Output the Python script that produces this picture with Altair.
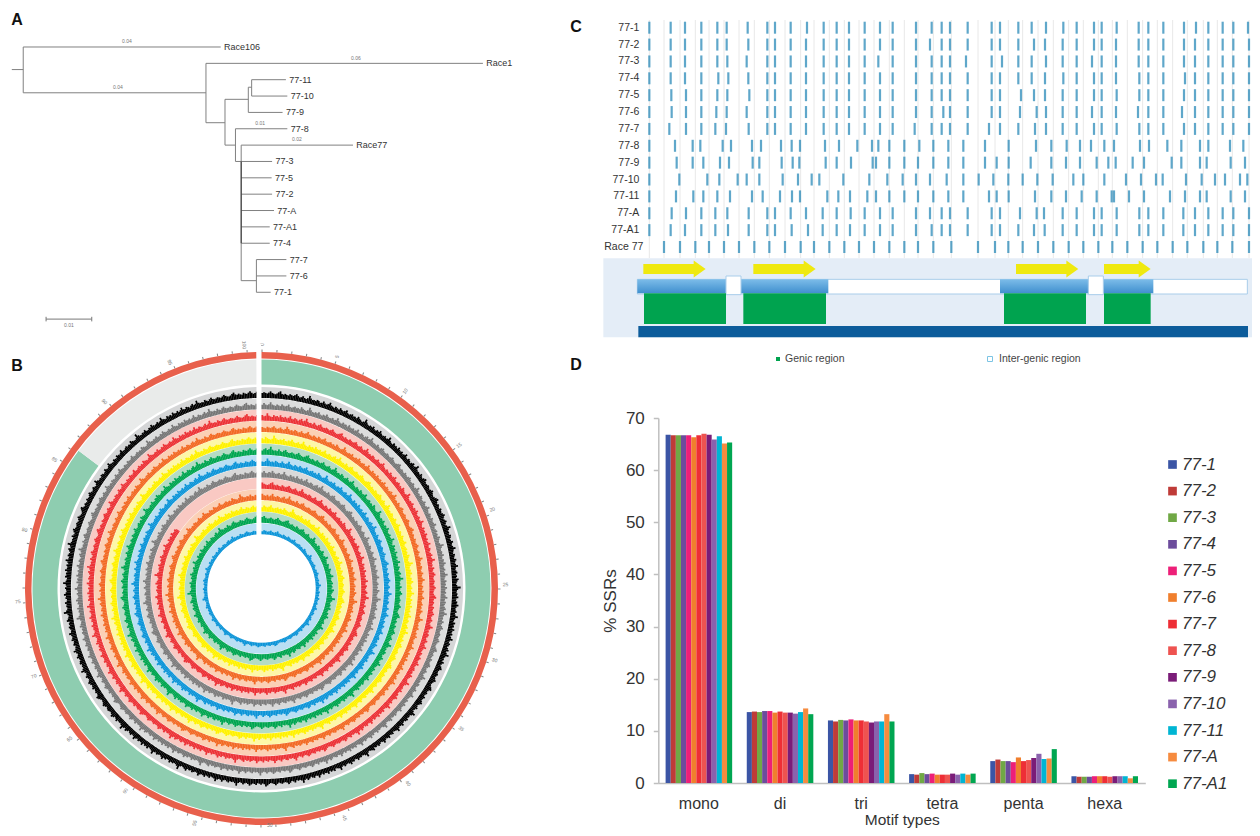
import altair as alt
import pandas as pd

FONT = "Liberation Sans"

# ---------- Panel A: tree (x = distance x 1000, y = leaf row) ----------
leaf_names = ["Race106","Race1","77-11","77-10","77-9","77-8","Race77","77-3","77-5","77-2","77-A","77-A1","77-4","77-7","77-6","77-1"]
leaf_rows = [0,1,2,3,4,5,6,7,8,9,10,11,12,13,14,15]
leaf_from = [3.2,41.6,51.2,51.2,50.5,47.8,49.0,49.0,49.0,49.0,49.0,49.0,49.0,52.2,52.2,52.2]
leaf_to = [44.7,99.8,58.4,58.7,57.7,58.7,72.5,55.5,55.4,55.5,55.9,55.0,55.0,58.5,58.5,55.2]
inner_h_from = [0.8,3.2,41.6,45.6,50.5,45.6,47.8,49.0]
inner_h_to = [3.2,41.6,45.6,50.5,51.2,47.8,49.0,52.2]
inner_h_row = [1.38,2.8,4.63,3.2,2.46,6.0,7.0,14.29]
vert_x = [3.2,41.6,45.6,50.5,51.2,47.8,49.0,52.2]
vert_top = [0,1,3.2,2.46,2,5,6,13]
vert_bot = [2.8,4.63,6.0,4,3,7,14.29,15]
branch_text = ["0.04","0.06","0.04","0.01","0.02"]
branch_x = [25,73.1,23.1,53,60.7]
branch_y = [-0.37,0.67,2.45,4.65,5.63]

h_df = pd.DataFrame({"x": leaf_from + inner_h_from, "x2": leaf_to + inner_h_to, "y": leaf_rows + inner_h_row})
v_df = pd.DataFrame({"x": vert_x, "y": vert_top, "y2": vert_bot})
leaf_df = pd.DataFrame({"name": leaf_names, "x": [v + 0.7 for v in leaf_to], "y": leaf_rows})
br_df = pd.DataFrame({"t": branch_text, "x": branch_x, "y": branch_y})

ax = alt.Scale(domain=[0, 116], range=[0, 552])
ay = alt.Scale(domain=[-2.385, 18.53], range=[0, 342])
X = lambda f="x": alt.X(f"{f}:Q", scale=ax, axis=None)
Y = lambda f="y": alt.Y(f"{f}:Q", scale=ay, axis=None)

a_layers = [
    alt.Chart(h_df).mark_rule(color="#808080", strokeWidth=1).encode(x=X(), x2="x2:Q", y=Y()),
    alt.Chart(v_df).mark_rule(color="#808080", strokeWidth=1).encode(x=X(), y=Y(), y2="y2:Q"),
    alt.Chart(pd.DataFrame({"x": [49.0], "y": [7], "y2": [12]})).mark_rule(color="#333333", strokeWidth=1).encode(x=X(), y=Y(), y2="y2:Q"),
    alt.Chart(leaf_df).mark_text(align="left", baseline="middle", fontSize=9, color="#333333", font=FONT).encode(x=X(), y=Y(), text="name:N"),
    alt.Chart(br_df).mark_text(fontSize=5, color="#777777", font=FONT).encode(x=X(), y=Y(), text="t:N"),
    alt.Chart(pd.DataFrame({"x": [8.0], "x2": [17.6], "y": [16.64]})).mark_rule(color="#777777", strokeWidth=1).encode(x=X(), x2="x2:Q", y=Y()),
    alt.Chart(pd.DataFrame({"x": [8.0, 17.6], "y": [16.5, 16.5], "y2": [16.78, 16.78]})).mark_rule(color="#777777", strokeWidth=1).encode(x=X(), y=Y(), y2="y2:Q"),
    alt.Chart(pd.DataFrame({"t": ["0.01"], "x": [12.8], "y": [16.98]})).mark_text(fontSize=5, color="#777777", font=FONT).encode(x=X(), y=Y(), text="t:N"),
    alt.Chart(pd.DataFrame({"t": ["A"]})).mark_text(fontSize=16, fontWeight="bold", color="#111111", font=FONT).encode(x=alt.value(9), y=alt.value(12), text="t:N"),
]
panel_a = alt.layer(*a_layers).properties(width=552, height=342)

# ---------- Panel B: circular tracks ----------
track_fg = ["#000000","#777777","#ec3237","#f26a25","#fff200","#00a651","#0d95d8","#7d7d7d","#ec3237","#f26a25","#fff200","#00a651","#0d95d8"]
track_bg = ["#d5d6d7","#dcdddd","#f9c9c3","#fbd0b5","#fdf7a8","#b4dcc4","#b9dff3","#d9d9d9","#f9c9c3","#fbd0b5","#fdf7a8","#b4dcc4","#b9dff3"]
track_outer = [201.6,190.2,178.9,167.5,156.2,144.8,133.5,122.1,110.7,99.4,88.0,76.7,65.3]
track_inner = [190.6,179.2,167.9,156.5,145.2,133.8,122.5,111.1,99.7,88.4,77.0,65.7,54.3]
track_peak = [1.05,1.0,1.0,0.95,1.0,1.05,1.0,1.05,1.0,1.0,1.0,1.05,0.7]
track_start = [0,37,81,14,59,103,26,71,5,92,48,116,33]
track_end = [358.8,358.8,358.8,358.8,358.8,358.8,358.8,358.8,305,358.8,358.8,358.8,358.8]
density = [0.42,0.50,0.44,0.38,0.47,0.58,0.46,0.40,0.36,0.43,0.55,0.64,0.45,0.39,0.48,0.41,0.37,0.52,0.44,0.40,
           0.49,0.60,0.47,0.38,0.43,0.54,0.42,0.36,0.46,0.70,0.51,0.40,0.45,0.39,0.53,0.47,0.37,0.42,0.57,0.44,
           0.39,0.48,0.66,0.46,0.41,0.36,0.50,0.43,0.38,0.55,0.45,0.40,0.47,0.62,0.42,0.37,0.44,0.52,0.40,0.46,
           0.38,0.59,0.48,0.41,0.36,0.45,0.74,0.53,0.42,0.39,0.47,0.43,0.56,0.40,0.37,0.49,0.44,0.61,0.46,0.38,
           0.42,0.51,0.39,0.45,0.68,0.47,0.40,0.36,0.54,0.43,0.48,0.38,0.58,0.44,0.41,0.50,0.37,0.46,0.63,0.42,
           0.39,0.52,0.45,0.36,0.47,0.57,0.41,0.49,0.72,0.48,0.40,0.44,0.38,0.55,0.43,0.37,0.50,0.60,0.45,0.39]
BIN_PX = 1.6

bg_rows, fg_rows = [], []
for fg, bg, ro, ri, pk, st, end in zip(track_fg, track_bg, track_outer, track_inner, track_peak, track_start, track_end):
    bg_rows.append({"t0": 0, "t1": 358.8, "r0": ri, "r1": ro, "c": bg})
    deg = BIN_PX / ri * 57.2958
    i = 0
    while i * deg < end:
        t0 = i * deg
        d = density[(st + i) % len(density)]
        fg_rows.append({"t0": round(t0, 2), "t1": round(min(t0 + deg * 1.05, end), 2), "r0": ri, "r1": round(ri + (ro - ri) * d * pk, 2), "c": fg})
        i += 1
ring_rows = [
    {"t0": 0, "t1": 358.8, "r0": 230.0, "r1": 236.5, "c": "#e8604c"},
    {"t0": 0, "t1": 307, "r0": 204.0, "r1": 229.0, "c": "#8ecdb0"},
    {"t0": 307, "t1": 358.8, "r0": 204.0, "r1": 229.0, "c": "#e9ebea"},
]
tick_deg = [d * 3.6 for d in range(100)]
tick_rows = [{"t0": d, "t1": d + 0.25, "r0": 236.5, "r1": 239.0, "c": "#888888"} for d in tick_deg]

th = alt.Scale(domain=[0, 360], range=[0, 6.283185])
rad = alt.Scale(type="linear", domain=[0, 260], range=[0, 260])
CX, CY = 253.5, 238.5

def arcs(rows):
    return alt.Chart(pd.DataFrame(rows)).mark_arc(strokeWidth=0).encode(
        x=alt.value(CX), y=alt.value(CY),
        theta=alt.Theta("t0:Q", scale=th, stack=False), theta2="t1:Q",
        radius=alt.Radius("r1:Q", scale=rad), radius2="r0:Q",
        color=alt.Color("c:N", scale=None),
    )

circ_labels = ["0","5","10","15","20","25","30","35","40","45","50","55","60","65","70","75","80","85","90","95","100"]
circ_theta = [0,18,36,54,71,89,107,125,143,160,178,196,214,232,249,267,284,302,320,338,356]
circ_r = [244,244,244,244,244,244,244,244,244,244,237,244,244,244,244,244,244,244,244,244,244]
circ_a = [270,288,306,324,341,359,17,35,53,70,0,286,304,322,339,357,14,32,50,68,86]
lab_df = pd.DataFrame({"t": circ_labels, "th": circ_theta, "r": circ_r, "a": circ_a})

b_layers = [
    arcs(ring_rows), arcs(tick_rows), arcs(bg_rows), arcs(fg_rows),
    alt.Chart(lab_df).mark_text(fontSize=5, color="#777777", font=FONT).encode(
        x=alt.value(CX), y=alt.value(CY),
        theta=alt.Theta("th:Q", scale=th, stack=False),
        radius=alt.Radius("r:Q", scale=rad),
        angle=alt.Angle("a:Q", scale=None), text="t:N"),
    alt.Chart(pd.DataFrame({"k": [1]})).mark_rule(color="white", strokeWidth=4.5).encode(
        x=alt.value(CX - 2.8), y=alt.value(-6), y2=alt.value(CY - 52)),
    alt.Chart(pd.DataFrame({"t": ["B"]})).mark_text(fontSize=16, fontWeight="bold", color="#111111", font=FONT).encode(x=alt.value(9), y=alt.value(16), text="t:N"),
]
panel_b = alt.layer(*b_layers).properties(width=507, height=477)

# ---------- Panel C: aligned SSR positions (alignment units) ----------
row_names = ["77-1","77-2","77-3","77-4","77-5","77-6","77-7","77-8","77-9","77-10","77-11","77-A","77-A1","Race 77"]
pos_1 = [268,332,375,424,472,500,563,622,645,692,741,791,830,867,914,960,998,1068,1115,1145,1170,1223,1295,1320,1375,1415,1458,1510,1550,1602,1625,1670,1736,1765,1810,1872,1908,1945,1988,2020,2064]
pos_2 = [268,332,375,424,472,500,565,622,645,692,738,791,830,867,914,960,998,1068,1110,1145,1170,1223,1295,1320,1375,1422,1455,1508,1550,1602,1625,1668,1736,1765,1810,1872,1905,1945,1988,2020,2067]
pos_3 = [268,332,375,424,472,502,560,622,645,692,738,791,830,867,914,955,998,1068,1115,1145,1170,1218,1295,1326,1375,1415,1458,1508,1550,1596,1625,1668,1736,1765,1810,1872,1905,1945,1988,2020,2067]
pos_4 = [268,332,375,424,475,505,565,622,645,692,738,791,830,867,914,960,998,1068,1115,1145,1170,1223,1295,1320,1375,1415,1455,1510,1550,1602,1625,1668,1738,1765,1810,1875,1905,1945,1988,2020,2067]
pos_5 = [268,334,378,424,472,502,568,622,645,692,738,791,830,867,914,960,998,1068,1115,1145,1170,1223,1295,1320,1383,1422,1455,1508,1550,1602,1625,1670,1738,1765,1810,1872,1905,1945,1988,2020,2067]
pos_6 = [268,335,378,424,469,500,560,622,645,692,738,791,830,867,914,960,998,1068,1115,1150,1170,1223,1295,1320,1380,1430,1458,1508,1550,1596,1625,1668,1734,1765,1810,1866,1905,1945,1988,2020,2067]
pos_7 = [268,328,378,424,466,498,566,622,645,692,738,791,830,867,914,960,998,1064,1115,1145,1170,1223,1287,1320,1375,1425,1458,1508,1550,1602,1625,1670,1738,1765,1810,1872,1905,1945,1988,2020,2067]
pos_8 = [268,345,398,421,488,513,576,603,663,695,720,795,837,892,936,955,988,1033,1078,1120,1165,1210,1275,1346,1428,1474,1520,1560,1593,1633,1662,1740,1767,1822,1864,1920,1945,2010,2050,2095]
pos_9 = [268,350,398,430,480,507,578,598,665,698,718,797,830,873,938,948,988,1033,1074,1120,1165,1210,1275,1310,1346,1412,1474,1518,1560,1610,1645,1667,1718,1752,1835,1864,1920,1940,2012,2055]
pos_10 = [268,358,442,478,533,560,598,668,714,755,778,850,928,982,1028,1068,1110,1160,1210,1256,1300,1345,1388,1432,1478,1540,1570,1633,1698,1743,1788,1808,1878,1925,1965,1995,2040,2062]
pos_11 = [268,348,400,430,472,510,576,608,660,696,720,802,835,870,922,948,988,1033,1074,1120,1165,1210,1287,1310,1346,1425,1474,1518,1565,1610,1655,1662,1707,1752,1830,1875,1920,1940,2012,2055]
pos_A = [268,335,378,424,466,502,566,622,645,692,738,788,830,872,914,960,998,1068,1110,1145,1170,1223,1295,1320,1380,1430,1452,1508,1550,1602,1625,1670,1738,1765,1810,1870,1905,1945,1988,2020,2067]
pos_A1 = [268,332,375,424,466,504,566,622,645,695,744,788,830,870,914,960,998,1068,1115,1145,1170,1223,1295,1320,1375,1422,1454,1508,1550,1602,1625,1670,1738,1765,1810,1870,1905,1945,1988,2020,2067]
pos_R = [312,360,406,447,492,537,583,628,675,722,762,808,853,897,942,988,1033,1074,1120,1174,1254,1305,1345,1388,1434,1480,1526,1570,1615,1657,1702,1748,1792,1838,1882,1930,1972,2017,2067]
all_pos = [pos_1,pos_2,pos_3,pos_4,pos_5,pos_6,pos_7,pos_8,pos_9,pos_10,pos_11,pos_A,pos_A1,pos_R]
grid_pos = [268] + pos_R

tick_df = pd.DataFrame([{"row": n, "pos": p} for n, ps in zip(row_names, all_pos) for p in ps])
C_W = 692
cx = alt.Scale(domain=[0, 2076], range=[0, C_W])
cy = alt.Scale(type="point", domain=row_names, range=[19.7, 239], padding=0)
lab_x = [238] * 13 + [250]
c_lab = pd.DataFrame({"row": row_names, "x": lab_x})

c1 = alt.layer(
    alt.Chart(pd.DataFrame({"pos": grid_pos})).mark_rule(color="#e8e8e8", strokeWidth=1).encode(
        x=alt.X("pos:Q", scale=cx, axis=None), y=alt.value(12), y2=alt.value(250)),
    alt.Chart(tick_df).mark_tick(color="#1b82b4", size=12, thickness=2.2, clip=True).encode(
        x=alt.X("pos:Q", scale=cx, axis=None),
        y=alt.Y("row:N", scale=cy, axis=None)),
    alt.Chart(c_lab).mark_text(align="right", baseline="middle", fontSize=10.5, color="#333333", font=FONT).encode(
        x=alt.X("x:Q", scale=cx, axis=None), y=alt.Y("row:N", scale=cy, axis=None), text="row:N"),
    alt.Chart(pd.DataFrame({"t": ["C"]})).mark_text(fontSize=16, fontWeight="bold", color="#111111", font=FONT).encode(x=alt.value(16), y=alt.value(19), text="t:N"),
).properties(width=C_W, height=250)

# schematic (y in 1/3 px below top of the panel)
cy2 = alt.Scale(domain=[0, 480], range=[0, 160])
def CX2(f="x"): return alt.X(f"{f}:Q", scale=cx, axis=None)
def CY2(f="y"): return alt.Y(f"{f}:Q", scale=cy2, axis=None)
def block(x0, x1, y0, y1, **mark):
    df = pd.DataFrame({"x": x0, "x2": x1, "y": y0, "y2": y1})
    return alt.Chart(df).mark_rect(**mark).encode(x=CX2(), x2="x2:Q", y=CY2(), y2="y2:Q")

grad = alt.Gradient(gradient="linear", x1=0, x2=0, y1=0, y2=1,
                    stops=[alt.GradientStop(color="#7cbce9", offset=0), alt.GradientStop(color="#3f8fce", offset=1)])
arrow_x0 = [250,580,1368,1632]
arrow_x1 = [402,732,1522,1738]
arrow_tip = [419,749,1537,1754]
genic_x0 = [252,550,1332,1632]
genic_x1 = [498,798,1578,1772]
c_layers = [
    block([130],[2076],[1],[238], color="#e4edf7"),
    block([232],[2062],[64],[108], color="white", stroke="#a9cdea", strokeWidth=1),
    block([232,1320],[805,1780],[64,64],[106,106], color=grad),
    block([498,1585],[543,1630],[54,54],[110,110], color="white", stroke="#a9cdea", strokeWidth=1),
    block(genic_x0,genic_x1,[106]*4,[198]*4, color="#00a34f"),
    block([235],[2064],[204],[238], color="#0c5c9b"),
    block(arrow_x0,arrow_x1,[18]*4,[48]*4, color="#efe90f"),
    alt.Chart(pd.DataFrame({"x": arrow_tip, "y": [33]*4})).mark_point(
        shape="M-0.7,-1L0.7,0L-0.7,1Z", size=289, filled=True, color="#efe90f", opacity=1).encode(x=CX2(), y=CY2()),
    alt.Chart(pd.DataFrame({"x": [654], "y": [303]})).mark_point(shape="square", size=16, filled=True, color="#00a34f", opacity=1).encode(x=CX2(), y=CY2()),
    alt.Chart(pd.DataFrame({"x": [1290], "y": [303]})).mark_point(shape="square", size=25, filled=False, color="#7cc4e4", opacity=1, strokeWidth=1).encode(x=CX2(), y=CY2()),
    alt.Chart(pd.DataFrame({"x": [675, 1317], "y": [303, 303], "t": ["Genic region", "Inter-genic region"]})).mark_text(
        align="left", baseline="middle", fontSize=10.5, color="#444444", font=FONT).encode(x=CX2(), y=CY2(), text="t:N"),
]
c2 = alt.layer(*c_layers).properties(width=C_W, height=160)

# ---------- Panel D: grouped bars ----------
motifs = ["mono","di","tri","tetra","penta","hexa"]
series = ["77-1","77-2","77-3","77-4","77-5","77-6","77-7","77-8","77-9","77-10","77-11","77-A","77-A1"]
colors = ["#3b55a5","#bf3b38","#70a845","#6c4c9c","#ed1f78","#f07f2d","#ee2e36","#ee5350","#7a1c78","#8a62ad","#00b5d3","#f68b3f","#00a651"]
mono = [66.8,66.7,66.7,66.7,66.7,66.3,66.7,67.0,66.8,65.9,66.5,65.1,65.3]
di = [13.6,13.7,13.6,13.8,13.8,13.5,13.7,13.5,13.5,13.3,13.6,14.3,13.2]
tri = [12.0,11.8,12.1,12.0,12.2,12.0,12.0,11.8,11.6,11.8,11.8,13.2,11.8]
tetra = [1.7,1.6,1.9,1.7,1.8,1.6,1.6,1.6,1.8,1.6,1.8,1.6,1.8]
penta = [4.2,4.5,4.2,4.2,4.0,4.9,4.2,4.4,4.8,5.6,4.6,4.7,6.5]
hexa = [1.3,1.2,1.2,1.2,1.3,1.3,1.3,1.2,1.3,1.3,1.3,0.9,1.3]

bars = pd.DataFrame([{"motif": m, "series": s, "v": v}
                     for m, vals in zip(motifs, [mono, di, tri, tetra, penta, hexa])
                     for s, v in zip(series, vals)])

D_LEFT = 98.3
bars_d = alt.Chart(bars).mark_bar(strokeWidth=0).encode(
    x=alt.X("motif:N", sort=motifs,
            scale=alt.Scale(range=[D_LEFT, D_LEFT + 487], paddingInner=0.18, paddingOuter=0.09),
            axis=alt.Axis(title="Motif types", labelAngle=0, labelFontSize=16, labelColor="#333333", labelFont=FONT,
                          labelPadding=12, ticks=False, domainColor="#bfbfbf", domainWidth=1.5,
                          titleFontSize=15.5, titleFontWeight="normal", titleColor="#333333", titleFont=FONT, titlePadding=1)),
    xOffset=alt.XOffset("series:N", sort=series, scale=alt.Scale(domain=series, paddingInner=0, paddingOuter=0)),
    y=alt.Y("v:Q", scale=alt.Scale(domain=[0, 70]),
            axis=alt.Axis(title="% SSRs", offset=-D_LEFT, values=[0,10,20,30,40,50,60,70], grid=False, labelFontSize=17, labelColor="#333333",
                          labelFont=FONT, labelPadding=9, tickSize=5, tickColor="#bfbfbf", tickWidth=1.5,
                          domainColor="#bfbfbf", domainWidth=1.5,
                          titleFontSize=17, titleFontWeight="normal", titleColor="#333333", titleFont=FONT, titlePadding=6)),
    color=alt.Color("series:N", sort=series, scale=alt.Scale(domain=series, range=colors),
                    legend=alt.Legend(title=None, orient="none", legendX=1156, legendY=448, symbolType="square", symbolSize=75,
                                      symbolStrokeWidth=0, labelFontSize=17, labelFontStyle="italic", labelFont=FONT, labelColor="#333333",
                                      rowPadding=8.6, labelOffset=1, labelLimit=80)),
)
d_letter = alt.Chart(pd.DataFrame({"t": ["D"]})).mark_text(
    fontSize=16, fontWeight="bold", color="#111111", font=FONT
).encode(x=alt.value(16), y=alt.value(-53), text="t:N")
panel_d = alt.layer(bars_d, d_letter).properties(width=D_LEFT + 487, height=365)

left = alt.vconcat(panel_a, panel_b, spacing=0, bounds="flush")
right = alt.vconcat(c1, c2, panel_d, spacing=0, bounds="flush")
chart = alt.hconcat(left, right, spacing=0).properties(padding=0).configure(
    font=FONT, view=alt.ViewConfig(stroke=None))

chart.save("out.html", embed_options={"renderer": "svg", "actions": False})
